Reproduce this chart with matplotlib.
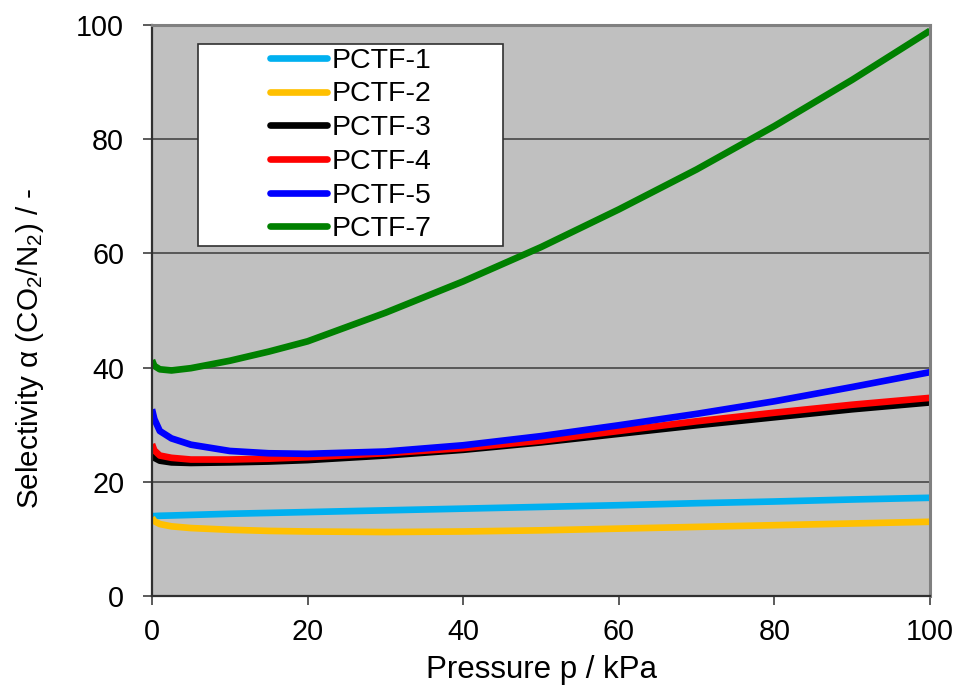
import matplotlib
matplotlib.use("Agg")
import matplotlib.pyplot as plt
from matplotlib.patches import Rectangle

plt.rcParams['font.family'] = ['Liberation Sans', 'DejaVu Sans']
plt.rcParams['mathtext.fontset'] = 'custom'
plt.rcParams['mathtext.rm'] = 'Liberation Sans'
plt.rcParams['mathtext.it'] = 'Liberation Sans'

pressure = [0, 0.3, 1, 2.5, 5, 10, 15, 20, 30, 40, 50, 60, 70, 80, 90, 100]
pctf1 = [14.0, 14.0, 14.05, 14.1, 14.2, 14.4, 14.55, 14.7, 15.0, 15.3, 15.6, 15.9, 16.25, 16.55, 16.9, 17.2]
pctf2 = [13.7, 13.1, 12.6, 12.2, 11.9, 11.6, 11.4, 11.3, 11.2, 11.3, 11.5, 11.8, 12.1, 12.4, 12.7, 13.0]
pctf3 = [24.8, 24.2, 23.7, 23.4, 23.3, 23.4, 23.55, 23.8, 24.6, 25.6, 26.9, 28.4, 29.9, 31.3, 32.7, 33.9]
pctf4 = [26.6, 25.5, 24.6, 24.2, 23.9, 23.9, 24.05, 24.3, 25.0, 25.9, 27.2, 28.9, 30.6, 32.1, 33.5, 34.7]
pctf5 = [32.7, 31.0, 28.9, 27.6, 26.5, 25.4, 25.0, 24.9, 25.3, 26.4, 28.0, 29.9, 31.9, 34.1, 36.6, 39.2]
pctf7 = [41.3, 40.3, 39.7, 39.5, 39.9, 41.2, 42.8, 44.6, 49.6, 55.1, 61.1, 67.7, 74.7, 82.3, 90.4, 99.0]

series = [
    ("PCTF-1", pctf1, "#00B0F0"),
    ("PCTF-2", pctf2, "#FFC000"),
    ("PCTF-3", pctf3, "#000000"),
    ("PCTF-4", pctf4, "#FF0000"),
    ("PCTF-5", pctf5, "#0000FF"),
    ("PCTF-7", pctf7, "#008000"),
]
y_ticks = [0, 20, 40, 60, 80, 100]
x_ticks = [0, 20, 40, 60, 80, 100]

fig = plt.figure(figsize=(9.58, 6.91), dpi=100)
ax = fig.add_axes([152/958, 1-596/691, 778/958, 571/691])
ax.set_facecolor("#C0C0C0")

for name, vals, col in series:
    ax.plot(pressure, vals, color=col, lw=4.8, label=name,
            solid_capstyle='butt', solid_joinstyle='round')

ax.set_xlim(0, 100)
ax.set_ylim(0, 100)
ax.set_xticks(x_ticks)
ax.set_yticks(y_ticks)
ax.yaxis.grid(True, color="#505050", lw=1.3)
ax.set_axisbelow(True)
ax.tick_params(axis='both', labelsize=20.7, direction='out', length=6.5, width=1.2, color="#404040")
ax.tick_params(axis='x', pad=9)
ax.tick_params(axis='y', pad=13.5)
for s in ['top', 'right']:
    ax.spines[s].set_color("#808080")
    ax.spines[s].set_linewidth(2.2)
for s in ['left', 'bottom']:
    ax.spines[s].set_color("#303030")
    ax.spines[s].set_linewidth(1.6)

ax.set_xlabel("Pressure p / kPa", fontsize=22.5, labelpad=7)
ax.set_ylabel(r"Selectivity α (CO$_2$/N$_2$) / -", fontsize=21.3)
ax.yaxis.set_label_coords(-0.136, (596-348)/571)

# legend frame
x0 = (198-152)/778
y0 = (596-246)/571
w = (503-198)/778
h = (246-44)/571
ax.add_patch(Rectangle((x0, y0), w, h, transform=ax.transAxes, facecolor="white",
                       edgecolor="#303030", lw=1.2, zorder=5))
leg = ax.legend(loc='center', bbox_to_anchor=(x0 + w/2, y0 + h/2), frameon=False,
                fontsize=20.5, handlelength=2.0, handletextpad=0.15, labelspacing=0.27)
leg.set_zorder(6)
for line in leg.get_lines():
    line.set_linewidth(4.8)
    line.set_solid_capstyle('round')

fig.savefig("out.png", dpi=100)
